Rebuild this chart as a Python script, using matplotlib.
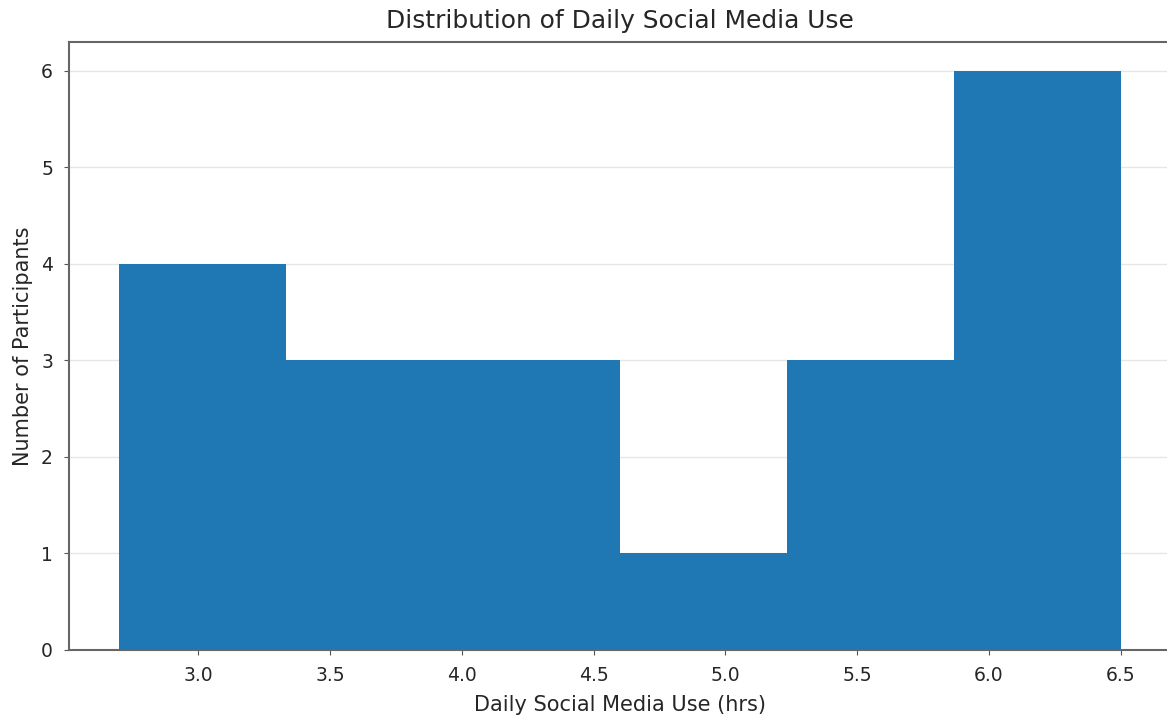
import matplotlib
matplotlib.use("Agg")
import matplotlib.pyplot as plt
import numpy as np

# Histogram of daily social media use (hours per day)
bin_edges = [2.7, 3.3333, 3.9667, 4.6, 5.2333, 5.8667, 6.5]
participant_counts = [4, 3, 3, 1, 3, 6]

text_color = "#262626"

fig = plt.figure(figsize=(11.67, 7.19), dpi=100)
ax = fig.add_axes([0.0591, 0.096, 0.9443, 0.8456])

ax.hist(bin_edges[:-1], bins=bin_edges, weights=participant_counts,
        color="#1f77b4", zorder=2)

ax.set_title("Distribution of Daily Social Media Use", fontsize=17.9, pad=10,
             color=text_color)
ax.set_xlabel("Daily Social Media Use (hrs)", fontsize=15, color=text_color,
              labelpad=7)
ax.set_ylabel("Number of Participants", fontsize=15, color=text_color,
              labelpad=6)
ax.tick_params(labelsize=13.5, color="#555555", labelcolor=text_color, pad=8)
ax.yaxis.grid(True, color="#e6e6e6", linewidth=1, zorder=0)
ax.set_axisbelow(True)
for s in ax.spines.values():
    s.set_color("#666666")
    s.set_linewidth(1.5)

fig.savefig("out.png", dpi=100)
